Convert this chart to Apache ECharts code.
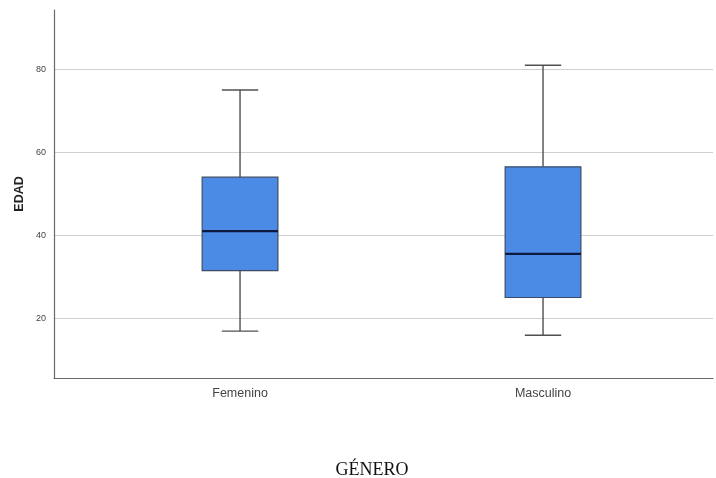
<!DOCTYPE html>
<html>
<head>
<meta charset="utf-8">
<script src="https://cdn.jsdelivr.net/npm/echarts@6/dist/echarts.min.js"></script>
<style>html,body{margin:0;padding:0;background:#fff}#c{width:716px;height:478px}</style>
</head>
<body>
<div id="c"></div>
<script>
const categories = ['Femenino', 'Masculino'];
const whiskerMin = [17.0, 16.0];
const q1 = [31.6, 25.1];
const median = [41.1, 35.6];
const q3 = [54.1, 56.6];
const whiskerMax = [75.1, 81.1];
const yTicks = [20, 40, 60, 80];

const boxData = categories.map((c, i) => [i, whiskerMin[i], q1[i], median[i], q3[i], whiskerMax[i]]);

const chart = echarts.init(document.getElementById('c'));
const BOX_W = 0.25, CAP_W = 0.12;

chart.setOption({
  animation: false,
  grid: { left: 54, right: 3, top: 10, bottom: 100, containLabel: false },
  xAxis: {
    type: 'value', min: -0.614, max: 1.561,
    axisLine: { show: true, onZero: false, lineStyle: { color: '#6a6a6a', width: 1.2 } },
    axisTick: { show: false, customValues: [0, 1] },
    splitLine: { show: false },
    axisLabel: {
      customValues: [0, 1],
      formatter: v => categories[Math.round(v)],
      margin: 9, fontSize: 12.5, color: '#444', fontFamily: 'Liberation Sans, Arial, sans-serif'
    }
  },
  yAxis: {
    type: 'value', min: 5.7, max: 94.4,
    axisLine: { show: true, onZero: false, lineStyle: { color: '#6a6a6a', width: 1.2 } },
    axisTick: { show: false, customValues: yTicks },
    splitLine: { show: true, lineStyle: { color: '#cfcfcf', width: 1 } },
    axisLabel: { customValues: yTicks, fontSize: 9, color: '#444', margin: 8, fontFamily: 'Liberation Sans, Arial, sans-serif' }
  },
  graphic: [
    { type: 'text', x: 20, y: 194, rotation: Math.PI / 2,
      style: { text: 'EDAD', fontSize: 12.5, fontWeight: 'bold', fill: '#222', align: 'center', verticalAlign: 'middle', fontFamily: 'Liberation Sans, Arial, sans-serif' } },
    { type: 'text', x: 372, y: 470,
      style: { text: 'GÉNERO', fontSize: 18, fill: '#111', align: 'center', verticalAlign: 'middle', fontFamily: 'Liberation Serif, Times New Roman, serif' } }
  ],
  series: [{
    type: 'custom',
    data: boxData,
    encode: { x: 0, y: [1, 2, 3, 4, 5] },
    renderItem: function (params, api) {
      const x = api.value(0);
      const pMin = api.coord([x, api.value(1)]);
      const pQ1 = api.coord([x, api.value(2)]);
      const pMed = api.coord([x, api.value(3)]);
      const pQ3 = api.coord([x, api.value(4)]);
      const pMax = api.coord([x, api.value(5)]);
      const bw = api.size([BOX_W, 0])[0];
      const cw = api.size([CAP_W, 0])[0];
      const cx = pMed[0];
      const wStyle = { stroke: '#505050', lineWidth: 1.4 };
      return {
        type: 'group',
        children: [
          { type: 'line', shape: { x1: cx, y1: pMax[1], x2: cx, y2: pQ3[1] }, style: wStyle },
          { type: 'line', shape: { x1: cx, y1: pQ1[1], x2: cx, y2: pMin[1] }, style: wStyle },
          { type: 'line', shape: { x1: cx - cw / 2, y1: pMax[1], x2: cx + cw / 2, y2: pMax[1] }, style: wStyle },
          { type: 'line', shape: { x1: cx - cw / 2, y1: pMin[1], x2: cx + cw / 2, y2: pMin[1] }, style: wStyle },
          { type: 'rect', shape: { x: cx - bw / 2, y: pQ3[1], width: bw, height: pQ1[1] - pQ3[1] },
            style: { fill: '#4b8be5', stroke: '#3d4d66', lineWidth: 1.2 } },
          { type: 'line', shape: { x1: cx - bw / 2, y1: pMed[1], x2: cx + bw / 2, y2: pMed[1] },
            style: { stroke: '#0d1a3e', lineWidth: 2.2 } }
        ]
      };
    }
  }]
});
</script>
</body>
</html>
